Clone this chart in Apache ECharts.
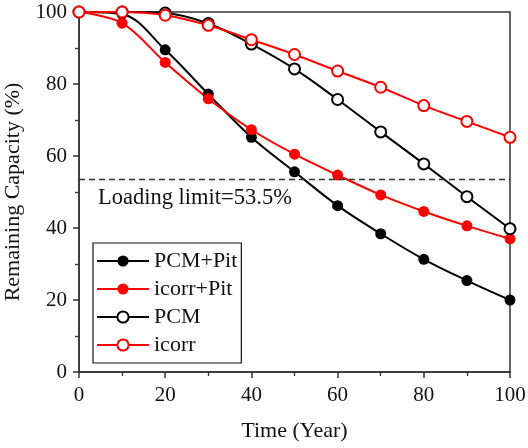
<!DOCTYPE html>
<html>
<head>
<meta charset="utf-8">
<title>Remaining Capacity</title>
<script src="https://cdn.jsdelivr.net/npm/echarts@6/dist/echarts.min.js"></script>
<style>
  html, body { margin: 0; padding: 0; background: #fff; }
  #chart { width: 528px; height: 448px; }
</style>
</head>
<body>
<div id="chart"></div>
<script>
  // data (years vs remaining capacity %)
  var years = [0, 10, 20, 30, 40, 50, 60, 70, 80, 90, 100];
  var pcmPit = [100, 99.4, 89.5, 77.2, 65.2, 55.6, 46.2, 38.4, 31.3, 25.4, 20.0];
  var icorrPit = [100, 96.9, 86.0, 75.9, 67.3, 60.5, 54.7, 49.2, 44.6, 40.6, 37.0];
  var pcm = [100, 100, 99.7, 96.8, 91.1, 84.2, 75.7, 66.7, 57.8, 48.7, 39.8];
  var icorr = [100, 100, 99.1, 96.3, 92.3, 88.2, 83.6, 79.1, 74.0, 69.6, 65.2];
  var loadingLimit = 53.5;

  var FONT = '"Liberation Serif", "Times New Roman", serif';
  var AXIS = '#333';

  function pairs(ys) {
    return years.map(function (x, i) { return [x, ys[i]]; });
  }

  function mkSeries(name, ys, color, filled) {
    return {
      name: name,
      type: 'line',
      data: pairs(ys),
      smooth: 0.35,
      clip: false,
      symbol: filled ? 'circle' : 'emptyCircle',
      symbolSize: 11,
      lineStyle: { color: color, width: 2 },
      // emptyCircle: stroke takes the colour, fill stays white
      itemStyle: { color: color, borderWidth: filled ? 0 : 1.3 }
    };
  }

  var chart = echarts.init(document.getElementById('chart'));

  var series = [
    mkSeries('PCM+Pit', pcmPit, '#000', true),
    mkSeries('icorr+Pit', icorrPit, '#f00', true),
    mkSeries('PCM', pcm, '#000', false),
    mkSeries('icorr', icorr, '#f00', false)
  ];
  series[0].markLine = {
    silent: true,
    symbol: 'none',
    lineStyle: { color: '#333', type: [6, 4], width: 1.3 },
    label: {
      show: true,
      position: 'insideStartBottom',
      distance: [19, 7],
      formatter: 'Loading limit=53.5%',
      color: '#111',
      fontFamily: FONT,
      fontSize: 22.5
    },
    data: [{ yAxis: loadingLimit }]
  };

  var option = {
    animation: false,
    backgroundColor: '#fff',
    grid: {
      left: 79, right: 18, top: 12, bottom: 76,
      outerBoundsMode: 'none',
      containLabel: false,
      show: true, borderColor: AXIS, borderWidth: 1.5,
      backgroundColor: 'transparent'
    },
    legend: {
      orient: 'vertical',
      left: 93, top: 243,
      padding: [7, 4, 7, 3],
      itemGap: 6,
      itemWidth: 52,
      itemHeight: 14,
      borderColor: '#111',
      borderWidth: 1.2,
      textStyle: { fontFamily: FONT, fontSize: 22, color: '#111', lineHeight: 21 },
      data: ['PCM+Pit', 'icorr+Pit', 'PCM', 'icorr']
    },
    xAxis: {
      type: 'value',
      min: 0, max: 100, interval: 20,
      name: 'Time (Year)',
      nameLocation: 'middle',
      nameGap: 48,
      nameTextStyle: { fontFamily: FONT, fontSize: 22, color: '#111' },
      axisLine: { lineStyle: { color: AXIS, width: 1.5 } },
      axisTick: { show: true, length: 6, lineStyle: { color: AXIS, width: 1.5 } },
      minorTick: { show: true, splitNumber: 2, length: 4, lineStyle: { color: AXIS, width: 1.3 } },
      splitLine: { show: false },
      axisLabel: { fontFamily: FONT, fontSize: 21, color: '#111', margin: 13 }
    },
    yAxis: {
      type: 'value',
      min: 0, max: 100, interval: 20,
      name: 'Remaining Capacity (%)',
      nameLocation: 'middle',
      nameGap: 51,
      nameTextStyle: { fontFamily: FONT, fontSize: 22, color: '#111' },
      axisLine: { lineStyle: { color: AXIS, width: 1.5 } },
      axisTick: { show: true, length: 6, lineStyle: { color: AXIS, width: 1.5 } },
      minorTick: { show: true, splitNumber: 2, length: 4, lineStyle: { color: AXIS, width: 1.3 } },
      splitLine: { show: false },
      axisLabel: { fontFamily: FONT, fontSize: 21, color: '#111', margin: 12 }
    },
    series: series
  };

  chart.setOption(option);
</script>
</body>
</html>
